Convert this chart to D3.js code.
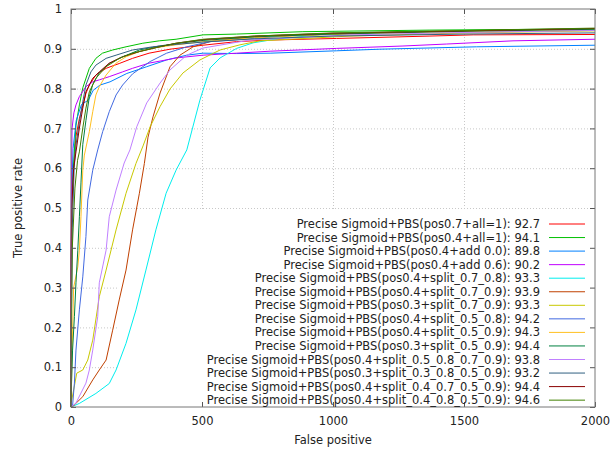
<!DOCTYPE html>
<html>
<head>
<meta charset="utf-8">
<title>ROC curves</title>
<script src="https://cdn.jsdelivr.net/npm/d3@7"></script>
<style>
  body { margin: 0; background: #fff; }
  svg text { font-family: "DejaVu Sans", sans-serif; font-size: 11.5px; fill: #222; }
  .grid line { stroke: #c8c8c8; stroke-dasharray: 1,2; }
  .grid path { display: none; }
  .axis path { display: none; }
  .axis line { stroke: #555; }
  .curve { fill: none; stroke-width: 1; }
</style>
</head>
<body>
<div id="viz"></div>
<script>
// series names as written in the key
var names = [
  "Precise Sigmoid+PBS(pos0.7+all=1): 92.7",
  "Precise Sigmoid+PBS(pos0.4+all=1): 94.1",
  "Precise Sigmoid+PBS(pos0.4+add 0.0): 89.8",
  "Precise Sigmoid+PBS(pos0.4+add 0.6): 90.2",
  "Precise Sigmoid+PBS(pos0.4+split_0.7_0.8): 93.3",
  "Precise Sigmoid+PBS(pos0.4+split_0.7_0.9): 93.9",
  "Precise Sigmoid+PBS(pos0.3+split_0.7_0.9): 93.3",
  "Precise Sigmoid+PBS(pos0.4+split_0.5_0.8): 94.2",
  "Precise Sigmoid+PBS(pos0.4+split_0.5_0.9): 94.3",
  "Precise Sigmoid+PBS(pos0.3+split_0.5_0.9): 94.4",
  "Precise Sigmoid+PBS(pos0.4+split_0.5_0.8_0.7_0.9): 93.8",
  "Precise Sigmoid+PBS(pos0.3+split_0.3_0.8_0.5_0.9): 93.2",
  "Precise Sigmoid+PBS(pos0.4+split_0.4_0.7_0.5_0.9): 94.4",
  "Precise Sigmoid+PBS(pos0.4+split_0.4_0.8_0.5_0.9): 94.6"
];

// gnuplot default line colours, in key order
var colors = ["#ff0000", "#00c000", "#0080ff", "#c000ff", "#00eeee", "#c04000", "#c8c800",
              "#4169e1", "#ffc020", "#008040", "#c080ff", "#306080", "#8b0000", "#408000"];

// [false positives, true positive rate]
var pos07all = [[0,0],[0.5,0.35],[2,0.52],[15,0.646],[19,0.68],[32,0.725],[45,0.758],[57,0.788],[70,0.809],
  [95,0.834],[134,0.851],[184,0.863],[235,0.876],[298,0.889],[378,0.899],[504,0.909],[632,0.918],[760,0.922],
  [1014,0.926],[1370,0.932],[1535,0.935],[2000,0.936]];
var pos04all = [[0,0],[1,0.3],[4,0.55],[19,0.708],[32,0.759],[45,0.802],[70,0.851],[95,0.876],[120,0.889],
  [159,0.897],[210,0.905],[274,0.914],[337,0.920],[401,0.924],[504,0.935],[632,0.937],[885,0.943],[1370,0.947],[2000,0.950]];
var add00 = [[0,0],[1,0.35],[3,0.55],[8,0.65],[20,0.72],[40,0.76],[66,0.771],[85,0.796],[111,0.809],[149,0.817],
  [213,0.838],[289,0.855],[365,0.872],[442,0.884],[504,0.889],[632,0.888],[760,0.889],[1014,0.895],[1179,0.899],
  [1548,0.905],[2000,0.909]];
var add06 = [[0,0],[0,0.27],[1,0.52],[4,0.70],[11,0.739],[19,0.759],[32,0.780],[57,0.805],[83,0.817],[108,0.822],
  [146,0.830],[197,0.842],[235,0.851],[298,0.864],[363,0.872],[401,0.877],[504,0.884],[632,0.889],[760,0.894],
  [1014,0.901],[1267,0.907],[1434,0.912],[1687,0.920],[2000,0.924]];
var split0708 = [[0,0],[32,0.009],[95,0.034],[146,0.059],[172,0.093],[210,0.16],[248,0.244],[286,0.344],[324,0.445],
  [363,0.537],[401,0.595],[442,0.646],[492,0.771],[531,0.852],[569,0.877],[632,0.901],[695,0.915],[798,0.926],
  [950,0.935],[1256,0.942],[2000,0.947]];
var split0709 = [[0,0],[6,0.001],[45,0.026],[83,0.068],[108,0.093],[134,0.118],[159,0.193],[184,0.269],[210,0.344],
  [235,0.445],[261,0.537],[280,0.612],[294,0.678],[313,0.729],[340,0.789],[378,0.855],[416,0.884],[466,0.905],
  [531,0.918],[721,0.932],[1256,0.942],[2000,0.948]];
var pos03split0709 = [[0,0],[3,0.018],[22,0.085],[45,0.093],[64,0.118],[83,0.168],[108,0.277],[134,0.344],[172,0.445],
  [210,0.537],[248,0.612],[275,0.656],[302,0.704],[340,0.755],[378,0.799],[427,0.839],[492,0.872],[569,0.897],
  [645,0.910],[721,0.920],[1065,0.932],[1500,0.940],[2000,0.945]];
var split0508 = [[0,0],[6,0.003],[13,0.060],[19,0.143],[32,0.244],[45,0.327],[57,0.428],[64,0.520],[83,0.595],
  [102,0.646],[121,0.692],[146,0.742],[172,0.784],[197,0.809],[235,0.837],[302,0.868],[365,0.889],[442,0.905],
  [531,0.918],[874,0.935],[1300,0.942],[2000,0.947]];
var split0509 = [[0,0],[3,0.1],[10,0.3],[26,0.352],[32,0.394],[38,0.478],[45,0.595],[51,0.633],[70,0.692],[83,0.742],
  [95,0.784],[108,0.805],[134,0.834],[172,0.864],[210,0.880],[261,0.893],[324,0.903],[401,0.910],[504,0.918],
  [700,0.928],[1000,0.936],[1500,0.943],[2000,0.948]];
var pos03split0509 = [[0,0],[0,0.018],[6,0.143],[13,0.227],[19,0.312],[26,0.394],[32,0.478],[38,0.563],[45,0.66],
  [57,0.72],[70,0.78],[83,0.81],[108,0.84],[146,0.863],[197,0.880],[261,0.897],[337,0.907],[401,0.913],[504,0.921],
  [700,0.930],[1000,0.937],[1500,0.944],[2000,0.949]];
var split05080709 = [[0,0],[19,0.010],[57,0.060],[70,0.093],[83,0.143],[102,0.227],[108,0.312],[134,0.394],[146,0.478],
  [172,0.545],[203,0.613],[225,0.646],[251,0.704],[289,0.764],[340,0.814],[378,0.847],[442,0.884],[504,0.902],
  [683,0.922],[1065,0.935],[1500,0.941],[2000,0.946]];
var split03080509 = [[0,0],[2,0.2],[5,0.45],[12,0.6],[19,0.658],[32,0.717],[45,0.767],[57,0.809],[76,0.842],[95,0.859],
  [134,0.876],[172,0.884],[235,0.897],[312,0.905],[401,0.911],[504,0.917],[700,0.925],[1000,0.932],[1500,0.937],[2000,0.940]];
var split04070509 = [[0,0],[0,0.37],[3,0.5],[10,0.6],[19,0.641],[32,0.701],[45,0.751],[57,0.792],[83,0.826],[108,0.842],
  [146,0.864],[197,0.880],[261,0.893],[324,0.903],[401,0.914],[504,0.923],[700,0.932],[1000,0.939],[1500,0.945],[2000,0.951]];
var split04080509 = [[0,0],[1,0.2],[5,0.4],[15,0.55],[25,0.62],[32,0.641],[45,0.701],[57,0.751],[70,0.792],[95,0.826],
  [134,0.855],[184,0.876],[235,0.889],[312,0.901],[401,0.914],[504,0.924],[700,0.932],[1000,0.940],[1500,0.946],[2000,0.952]];

var series = [pos07all, pos04all, add00, add06, split0708, split0709, pos03split0709, split0508,
              split0509, pos03split0509, split05080709, split03080509, split04070509, split04080509];

var xTicks = [0, 500, 1000, 1500, 2000];
var yTicks = [0, 0.1, 0.2, 0.3, 0.4, 0.5, 0.6, 0.7, 0.8, 0.9, 1];

var W = 614, H = 453;
var plotL = 71, plotR = 595, plotT = 9, plotB = 407;

var svg = d3.select("#viz").append("svg")
    .attr("width", W)
    .attr("height", H);

var x = d3.scaleLinear().domain([0, 2000]).range([plotL, plotR]);
var y = d3.scaleLinear().domain([0, 1]).range([plotB, plotT]);

// dotted grid
svg.append("g")
    .attr("class", "grid")
    .attr("transform", "translate(0," + plotB + ")")
    .call(d3.axisBottom(x).tickValues(xTicks.slice(1, -1)).tickSize(-(plotB - plotT)).tickFormat(""));
svg.append("g")
    .attr("class", "grid")
    .attr("transform", "translate(" + plotL + ",0)")
    .call(d3.axisLeft(y).tickValues(yTicks.slice(1, -1)).tickSize(-(plotR - plotL)).tickFormat(""));

// key background hides the grid behind it
svg.append("rect")
    .attr("x", 117).attr("y", 211)
    .attr("width", plotR - 117 - 1).attr("height", plotB - 211 - 1)
    .attr("fill", "#fff");

var line = d3.line()
    .x(function(d) { return x(d[0]); })
    .y(function(d) { return y(d[1]); });

svg.append("g").selectAll("path")
    .data(series)
    .enter().append("path")
      .attr("class", "curve")
      .attr("stroke", function(d, i) { return colors[i]; })
      .attr("d", line);

// axes with inward ticks, mirrored on top and right
svg.append("g")
    .attr("class", "axis")
    .attr("transform", "translate(0," + plotB + ")")
    .call(d3.axisBottom(x).tickValues(xTicks).tickSize(-5).tickPadding(10).tickFormat(d3.format("d")));
svg.append("g")
    .attr("class", "axis")
    .attr("transform", "translate(" + plotL + ",0)")
    .call(d3.axisLeft(y).tickValues(yTicks).tickSize(-5).tickPadding(9).tickFormat(d3.format("~g")));
svg.append("g")
    .attr("class", "axis")
    .attr("transform", "translate(0," + plotT + ")")
    .call(d3.axisTop(x).tickValues(xTicks).tickSize(-5).tickFormat(""));
svg.append("g")
    .attr("class", "axis")
    .attr("transform", "translate(" + plotR + ",0)")
    .call(d3.axisRight(y).tickValues(yTicks).tickSize(-5).tickFormat(""));

svg.selectAll(".axis text").attr("fill", "#222").style("font-size", "11.5px").style("font-family", "DejaVu Sans, sans-serif");

// frame
svg.append("rect")
    .attr("x", plotL).attr("y", plotT)
    .attr("width", plotR - plotL).attr("height", plotB - plotT)
    .attr("fill", "none")
    .attr("stroke", "#777");

// axis titles
svg.append("text")
    .attr("x", (plotL + plotR) / 2)
    .attr("y", 444)
    .attr("text-anchor", "middle")
    .text("False positive");
svg.append("text")
    .attr("transform", "translate(22," + ((plotT + plotB) / 2) + ") rotate(-90)")
    .attr("text-anchor", "middle")
    .text("True positive rate");

// key
var key = svg.append("g").selectAll("g")
    .data(names)
    .enter().append("g")
      .attr("transform", function(d, i) { return "translate(0," + (224 + i * 13.55) + ")"; });
key.append("text")
    .attr("x", 540)
    .attr("dy", "0.35em")
    .attr("text-anchor", "end")
    .text(function(d) { return d; });
key.append("line")
    .attr("x1", 549).attr("x2", 585)
    .attr("stroke", function(d, i) { return colors[i]; })
    .attr("stroke-width", 1);
</script>
</body>
</html>
